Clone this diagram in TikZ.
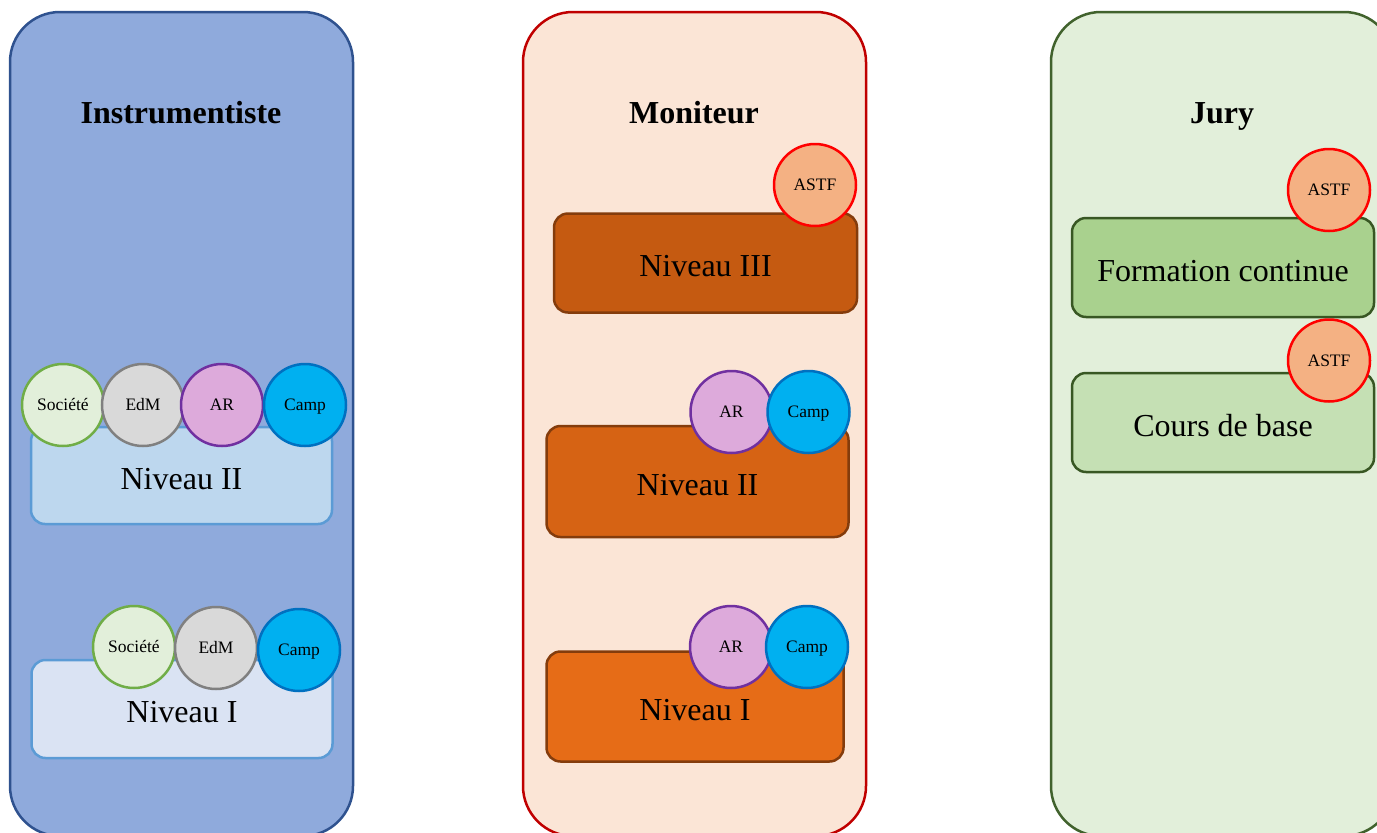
\documentclass[tikz,border=0pt]{standalone}
\usepackage{fontspec}
\setmainfont{Liberation Serif}
\definecolor{bluefill}{HTML}{8FAADC}
\definecolor{bluedraw}{HTML}{2F528F}
\definecolor{peachfill}{HTML}{FBE5D6}
\definecolor{reddraw}{HTML}{C00000}
\definecolor{greenfill}{HTML}{E2EFDA}
\definecolor{greendraw}{HTML}{41622D}
\definecolor{lvlblueA}{HTML}{BDD7EE}
\definecolor{lvlblueB}{HTML}{DAE3F3}
\definecolor{lvlbluedraw}{HTML}{5B9BD5}
\definecolor{orA}{HTML}{C55A11}
\definecolor{orB}{HTML}{D66314}
\definecolor{orC}{HTML}{E66C17}
\definecolor{ordraw}{HTML}{843C0C}
\definecolor{grA}{HTML}{A9D18E}
\definecolor{grB}{HTML}{C5E0B4}
\definecolor{grdraw}{HTML}{385723}
\definecolor{socfill}{HTML}{E2EFDA}
\definecolor{socdraw}{HTML}{70AD47}
\definecolor{edmfill}{HTML}{D9D9D9}
\definecolor{edmdraw}{HTML}{808080}
\definecolor{arfill}{HTML}{DDAADB}
\definecolor{ardraw}{HTML}{7030A0}
\definecolor{campfill}{HTML}{00B0F0}
\definecolor{campdraw}{HTML}{0070C0}
\definecolor{astffill}{HTML}{F4B183}
\definecolor{astfdraw}{HTML}{FF0000}
\tikzset{
  panel/.style={line width=2.5pt, rounded corners=50pt},
  title/.style={font=\fontsize{32}{38}\selectfont\bfseries, inner sep=0pt,
    text height=22pt, text depth=0pt},
  lvl/.style={rectangle, rounded corners=14pt, line width=2.5pt, inner sep=0pt,
    font=\fontsize{32}{38}\selectfont, text height=27pt, text depth=0pt},
  bub/.style={circle, minimum size=82pt, inner sep=0pt, line width=2.5pt,
    font=\fontsize{17.5}{20}\selectfont, text height=11pt, text depth=0pt},
  soc/.style={bub, fill=socfill, draw=socdraw},
  edm/.style={bub, fill=edmfill, draw=edmdraw},
  ar/.style={bub, fill=arfill, draw=ardraw},
  camp/.style={bub, fill=campfill, draw=campdraw},
  astf/.style={bub, fill=astffill, draw=astfdraw},
}
\begin{document}
\begin{tikzpicture}[x=1pt,y=-1pt]
\useasboundingbox (0,0) rectangle (1377,833);
\begin{scope}
\clip (0,0) rectangle (1377,833);
% panels
\draw[panel, fill=bluefill, draw=bluedraw] (10,12) rectangle (353,836);
\draw[panel, fill=peachfill, draw=reddraw] (523,12) rectangle (866,836);
\draw[panel, fill=greenfill, draw=greendraw] (1051,12) rectangle (1394,836);
\end{scope}
\node[title] (t1) at (181,112) {Instrumentiste};
\node[title] (t2) at (694,112) {Moniteur};
\node[title] (t3) at (1222,112) {Jury};
% Instrumentiste
\node[lvl, fill=lvlblueA, draw=lvlbluedraw, minimum width=301pt, minimum height=97pt] (i2) at (181.5,475.5) {Niveau II};
\node[lvl, fill=lvlblueB, draw=lvlbluedraw, minimum width=301pt, minimum height=98pt] (i1) at (182,709) {Niveau I};
\node[soc] (i2soc) at (63,405) {Société};
\node[edm] (i2edm) at (143,405) {EdM};
\node[ar] (i2ar) at (222,405) {AR};
\node[camp] (i2camp) at (305,405) {Camp};
\node[soc] (i1soc) at (134,647) {Société};
\node[edm] (i1edm) at (216,648) {EdM};
\node[camp] (i1camp) at (299,650) {Camp};
% Moniteur
\node[lvl, fill=orA, draw=ordraw, minimum width=303pt, minimum height=99pt] (m3) at (705.5,263) {Niveau III};
\node[lvl, fill=orB, draw=ordraw, minimum width=302pt, minimum height=111pt] (m2) at (697.5,481.5) {Niveau II};
\node[lvl, fill=orC, draw=ordraw, minimum width=297pt, minimum height=110pt] (m1) at (695,706.5) {Niveau I};
\node[astf] (m3astf) at (815,185) {ASTF};
\node[ar] (m2ar) at (731.5,412) {AR};
\node[camp] (m2camp) at (808.5,412) {Camp};
\node[ar] (m1ar) at (731,647) {AR};
\node[camp] (m1camp) at (807,647) {Camp};
% Jury
\node[lvl, fill=grA, draw=grdraw, minimum width=302pt, minimum height=99pt] (jfc) at (1223,267.5) {Formation continue};
\node[lvl, fill=grB, draw=grdraw, minimum width=302pt, minimum height=99pt] (jcb) at (1223,422.5) {Cours de base};
\node[astf] (jfcastf) at (1329,190) {ASTF};
\node[astf] (jcbastf) at (1329,360.5) {ASTF};
\end{tikzpicture}
\end{document}
